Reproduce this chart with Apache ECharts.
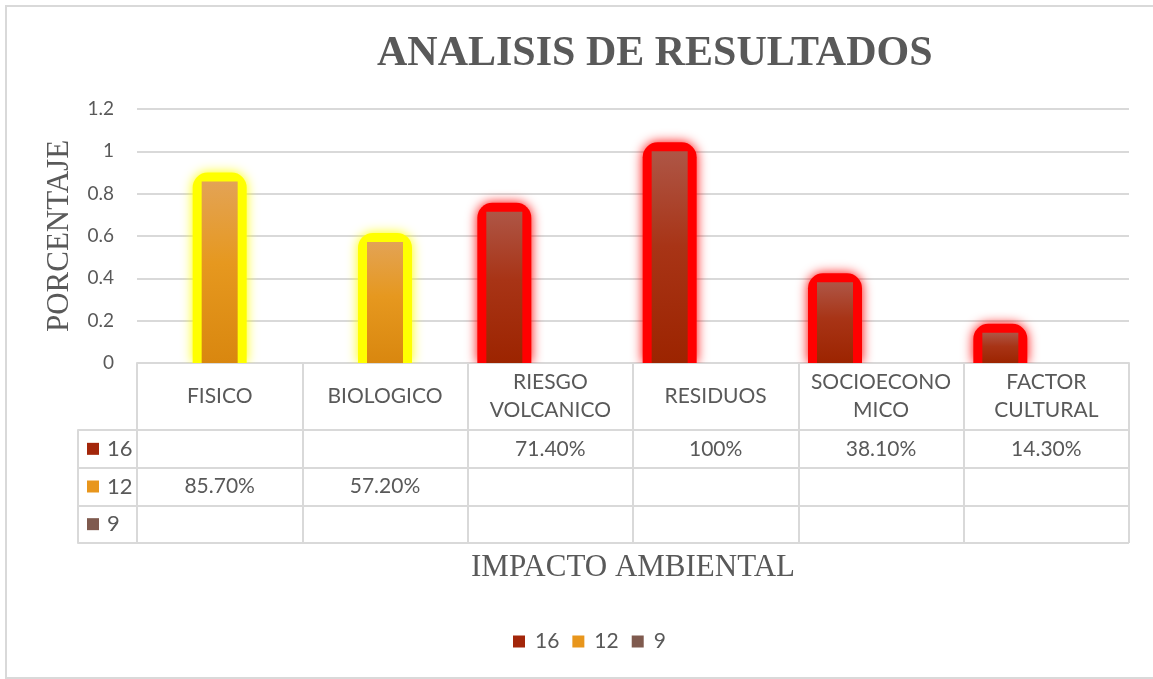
<!DOCTYPE html>
<html>
<head>
<meta charset="utf-8">
<title>ANALISIS DE RESULTADOS</title>
<script src="https://cdn.jsdelivr.net/npm/echarts@6/dist/echarts.min.js"></script>
<style>
  html, body { margin: 0; padding: 0; background: #ffffff; overflow: hidden; }
  #chart { position: absolute; left: 0; top: 0; width: 1153px; height: 679px; }
  #frame { position: absolute; left: 5px; top: 5px; width: 1170px; height: 670px;
           border: 2px solid #d9d9d9; pointer-events: none; }
</style>
</head>
<body>
<div id="chart"></div>
<div id="frame"></div>
<script>
// Categories (header row of the data table, wrapped as in the sheet)
const categories = ['FISICO', 'BIOLOGICO', 'RIESGO\nVOLCANICO', 'RESIDUOS', 'SOCIOECONO\nMICO', 'FACTOR\nCULTURAL'];

// Series names (also the row labels of the data table)
const seriesNames = ['16', '12', '9'];

// Series values (share of 1)
const values16 = [null, null, 0.714, 1, 0.381, 0.143];
const values12 = [0.857, 0.572, null, null, null, null];
const values9  = [null, null, null, null, null, null];

// Value axis ticks
const yMin = 0;
const yMax = 1.2;
const yStep = 0.2;

const seriesValues = [values16, values12, values9];

// Styling
const TEXT = '#595959';
const RULE = '#d9d9d9';
const SANS = 'Lato';
const SERIF = 'Liberation Serif';
const BAR_W = 36;       // bar width in px
const BAR_SPACE = 10;   // space between bars of one category
const GLOW = 9;         // glow reach around each bar

const palette = [
  { solid: '#a3260a', stops: ['#ae5646', '#a83416', '#9c2400'], glow: '#ff0000' },
  { solid: '#e8961c', stops: ['#e3a355', '#e6981f', '#d9870f'], glow: '#ffff00' },
  { solid: '#7f5a4e', stops: ['#9a7468', '#86584a', '#7a4e40'], glow: null }
];

function fmtPct(v) {
  const p = Math.round(v * 10000) / 100;
  return (p === 100 ? '100' : p.toFixed(2)) + '%';
}

function gradient(stops) {
  return new echarts.graphic.LinearGradient(0, 0, 0, 1, [
    { offset: 0, color: stops[0] },
    { offset: 0.45, color: stops[1] },
    { offset: 1, color: stops[2] }
  ]);
}

// Bars
const barSeries = seriesNames.map((name, k) => ({
  type: 'bar',
  name: name,
  xAxisIndex: 0,
  yAxisIndex: 0,
  data: seriesValues[k],
  barWidth: BAR_W,
  barGap: (BAR_SPACE / BAR_W * 100) + '%',
  z: 3,
  clip: true,
  itemStyle: { color: gradient(palette[k].stops) }
}));

// Soft glow drawn behind each bar, placed on the same scale as the bars
const glowSeries = seriesNames
  .map((name, k) => ({ name, k }))
  .filter(d => palette[d.k].glow)
  .map(({ name, k }) => ({
    type: 'custom',
    name: 'glow ' + name,
    xAxisIndex: 0,
    yAxisIndex: 0,
    z: 1,
    silent: true,
    clip: true,
    encode: { x: 0, y: 1 },
    data: seriesValues[k].map((v, i) => [i, v]).filter(d => d[1] != null),
    renderItem(params, api) {
      const i = api.value(0);
      const top = api.coord([i, api.value(1)]);
      const base = api.coord([i, 0]);
      const cx = top[0] + (k - 1) * (BAR_W + BAR_SPACE);
      return {
        type: 'rect',
        shape: {
          x: cx - BAR_W / 2 - GLOW,
          y: top[1] - GLOW,
          width: BAR_W + 2 * GLOW,
          height: base[1] - top[1] + GLOW,
          r: [15, 15, 0, 0]
        },
        style: { fill: palette[k].glow, shadowBlur: 12, shadowColor: palette[k].glow }
      };
    }
  }));

// Values written into the data table cells
const cellSeries = seriesNames.map((name, k) => ({
  type: 'custom',
  name: 'tabla ' + name,
  xAxisIndex: 1,
  yAxisIndex: 1,
  z: 3,
  silent: true,
  encode: { x: 0, y: 1 },
  data: seriesValues[k].map((v, i) => [i, k, v]).filter(d => d[2] != null),
  renderItem(params, api) {
    const p = api.coord([api.value(0), api.value(1)]);
    return {
      type: 'text',
      x: p[0],
      y: p[1],
      style: {
        text: fmtPct(api.value(2)),
        align: 'center',
        verticalAlign: 'middle',
        font: '21px ' + SANS,
        fill: TEXT
      }
    };
  }
}));

const rowRich = { t: { fontSize: 22, fontFamily: SANS, color: TEXT, padding: [0, 0, 0, 8] } };
palette.forEach((p, k) => {
  rowRich['s' + k] = { width: 12, height: 12, backgroundColor: p.solid };
});

const chart = echarts.init(document.getElementById('chart'), null, { renderer: 'canvas' });

chart.setOption({
  animation: false,
  backgroundColor: '#ffffff',
  title: {
    text: 'ANALISIS DE RESULTADOS',
    left: 377,
    top: 33,
    padding: 0,
    textStyle: { fontFamily: SERIF, fontWeight: 'bold', fontSize: 42, color: TEXT }
  },
  legend: {
    data: seriesNames.map((n, k) => ({ name: n, itemStyle: { color: palette[k].solid } })),
    left: 513,
    top: 631,
    padding: 0,
    icon: 'rect',
    itemWidth: 12,
    itemHeight: 12,
    itemGap: 13,
    selectedMode: false,
    textStyle: { fontSize: 21, fontFamily: SANS, color: TEXT, padding: [0, 0, 0, 5] }
  },
  grid: [
    { left: 137, right: 24, top: 109, bottom: 316, containLabel: false, outerBoundsMode: 'none' },
    { left: 137, right: 24, top: 430, bottom: 136, containLabel: false, outerBoundsMode: 'none' }
  ],
  xAxis: [
    {
      type: 'category',
      gridIndex: 0,
      data: categories,
      position: 'bottom',
      axisLine: { show: true, lineStyle: { color: RULE, width: 2 } },
      axisTick: { show: true, interval: 0, length: 180, lineStyle: { color: RULE, width: 2 } },
      axisLabel: {
        interval: 0, margin: 33, verticalAlign: 'middle', lineHeight: 28,
        fontSize: 21, fontFamily: SANS, color: TEXT
      },
      splitLine: { show: false },
      name: 'IMPACTO AMBIENTAL',
      nameLocation: 'middle',
      nameGap: 189,
      nameMoveOverlap: false,
      nameTextStyle: { fontFamily: SERIF, fontSize: 31, color: TEXT }
    },
    {
      type: 'category',
      gridIndex: 1,
      data: categories,
      show: false
    }
  ],
  yAxis: [
    {
      type: 'value',
      gridIndex: 0,
      min: yMin,
      max: yMax,
      interval: yStep,
      axisLine: { show: false },
      axisTick: { show: false },
      splitLine: { show: true, lineStyle: { color: RULE, width: 2 } },
      axisLabel: { margin: 23, fontSize: 19, fontFamily: SANS, color: TEXT },
      name: 'PORCENTAJE',
      nameLocation: 'middle',
      nameGap: 62,
      nameMoveOverlap: false,
      nameTextStyle: { fontFamily: SERIF, fontSize: 31, color: TEXT }
    },
    {
      type: 'category',
      gridIndex: 1,
      data: seriesNames,
      inverse: true,
      position: 'left',
      axisLine: { show: true, lineStyle: { color: RULE, width: 2 } },
      axisTick: { show: true, interval: 0, length: 59, lineStyle: { color: RULE, width: 2 } },
      splitLine: { show: true, interval: 0, lineStyle: { color: RULE, width: 2 } },
      axisLabel: {
        interval: 0,
        align: 'left',
        margin: 50,
        formatter: (value, index) => '{s' + index + '|}{t|' + value + '}',
        rich: rowRich
      }
    },
    {
      type: 'category',
      gridIndex: 1,
      data: seriesNames,
      inverse: true,
      position: 'left',
      offset: 59,
      axisLine: { show: true, lineStyle: { color: RULE, width: 2 } },
      axisTick: { show: false },
      axisLabel: { show: false },
      splitLine: { show: false }
    }
  ],
  series: [...glowSeries, ...barSeries, ...cellSeries]
});
</script>
</body>
</html>
